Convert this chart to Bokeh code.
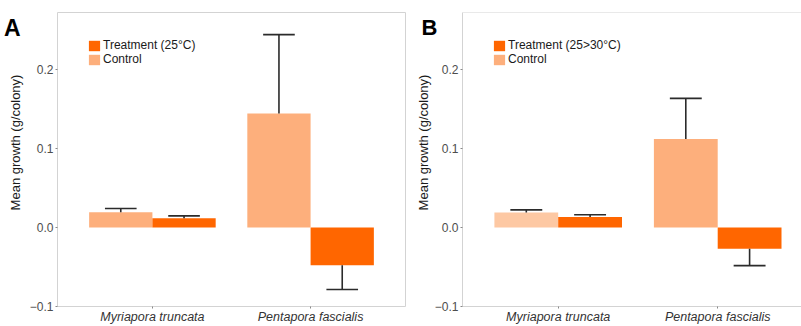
from bokeh.plotting import figure
from bokeh.layouts import row
from bokeh.models import (Range1d, FixedTicker, Legend, LegendItem, LinearAxis,
                          ColumnDataSource, Span)
from bokeh.embed import file_html
from bokeh.resources import INLINE

# ---------------- data ----------------
species = ["Myriapora truncata", "Pentapora fascialis"]
y_ticks = [-0.1, 0.0, 0.1, 0.2]
y_tick_labels = ["\u22120.1", "0.0", "0.1", "0.2"]
y_title = "Mean growth (g/colony)"

a_control = [0.0194, 0.1442]
a_control_se = [0.0046, 0.0998]
a_treatment = [0.0118, -0.0479]
a_treatment_se = [0.0029, 0.0306]
a_treatment_label = "Treatment (25\u00b0C)"

b_control = [0.0189, 0.1118]
b_control_se = [0.0034, 0.0516]
b_treatment = [0.0131, -0.0268]
b_treatment_se = [0.0029, 0.0215]
b_treatment_label = "Treatment (25>30\u00b0C)"

control_label = "Control"

# ---------------- style ----------------
TRT = "#FF6600"
CTRL = "#FDAF7C"
CTRL_LIGHT = "#FDC8A3"
BORDER = "#D3D3D3"
FONT = "Liberation Sans"
Y0, Y1 = -0.1, 0.272
H = 326
FRAME_H = 294
PX_PER_UNIT = FRAME_H / (Y1 - Y0)


def y_at_px(px):
    """data value at a given canvas pixel row (frame top is at pixel 12)"""
    return Y1 - (px - 12) / PX_PER_UNIT


def text_axis(p, text, px, standoff, size, bold=False, vertical=False):
    yv = y_at_px(px)
    ax = LinearAxis(ticker=FixedTicker(ticks=[yv]),
                    major_label_overrides={yv: text},
                    axis_line_color=None, major_tick_line_color=None,
                    minor_tick_line_color=None, major_tick_out=0, major_tick_in=0,
                    major_label_standoff=standoff,
                    major_label_text_font_size=size,
                    major_label_text_font=FONT,
                    major_label_text_font_style="bold" if bold else "normal",
                    major_label_text_color="black" if bold else "#1a1a1a")
    if vertical:
        ax.major_label_orientation = "vertical"
    p.add_layout(ax, "left")


def make_panel(letter, control, control_se, treatment, treatment_se, trt_label,
               ctrl_colors, width, left, right, x_end, full_outline, letter_first,
               s1, s2, letter_size):
    p = figure(width=width, height=H, output_backend="svg", toolbar_location=None,
               x_range=Range1d(0.4, x_end), y_range=Range1d(Y0, Y1),
               min_border_left=left, min_border_right=right,
               min_border_top=12, min_border_bottom=20)
    p.xgrid.visible = False
    p.ygrid.visible = False
    p.background_fill_color = "white"
    p.border_fill_color = "white"
    if full_outline:
        p.outline_line_color = BORDER
        p.axis.axis_line_color = None
    else:
        p.outline_line_color = None
        p.axis.axis_line_color = BORDER
        p.add_layout(Span(location=Y1, dimension="width", line_color=BORDER, line_width=1))

    xs = [i + 1 for i in range(len(species))]
    xc = [x - 0.2 for x in xs]
    xt = [x + 0.2 for x in xs]

    src_c = ColumnDataSource(dict(x=xc, top=control, color=ctrl_colors))
    src_t = ColumnDataSource(dict(x=xt, top=treatment))
    rc = p.vbar(x="x", top="top", bottom=0, width=0.4, source=src_c,
                fill_color="color", line_color=None)
    rt = p.vbar(x="x", top="top", bottom=0, width=0.4, source=src_t,
                fill_color=TRT, line_color=None)

    # one-sided error bars
    for xv, mv, sv in [(xc, control, control_se), (xt, treatment, treatment_se)]:
        ends = [m + (s if m >= 0 else -s) for m, s in zip(mv, sv)]
        p.segment(x0=xv, x1=xv, y0=mv, y1=ends, line_color="#2b2b2b", line_width=1.6)
        p.segment(x0=[x - 0.1 for x in xv], x1=[x + 0.1 for x in xv], y0=ends, y1=ends,
                  line_color="#2b2b2b", line_width=1.6)

    # axes
    p.yaxis.ticker = FixedTicker(ticks=y_ticks)
    p.yaxis.major_label_overrides = {t: l for t, l in zip(y_ticks, y_tick_labels)}
    p.xaxis.ticker = FixedTicker(ticks=xs)
    p.xaxis.major_label_overrides = {x: s for x, s in zip(xs, species)}
    p.axis.minor_tick_line_color = None
    p.axis.major_tick_in = 0
    p.axis.major_tick_out = 2
    p.axis.major_tick_line_color = "#888888"
    p.yaxis.major_label_standoff = 2
    p.xaxis.major_label_standoff = 1
    p.yaxis.major_label_text_font_size = "12px"
    p.yaxis.major_label_text_color = "#4d4d4d"
    p.xaxis.major_label_text_font_size = "12.5px"
    p.xaxis.major_label_text_font_style = "italic"
    p.xaxis.major_label_text_color = "#333333"
    p.axis.major_label_text_font = FONT

    # y title and panel letter, stacked in the left margin
    if letter_first:
        text_axis(p, letter, 27, s1, letter_size, bold=True)
        text_axis(p, y_title, 142, s2, "13px", vertical=True)
    else:
        text_axis(p, y_title, 142, s1, "13px", vertical=True)
        text_axis(p, letter, 27, s2, letter_size, bold=True)

    # legend
    items = [LegendItem(label=trt_label, renderers=[rt], index=0),
             LegendItem(label=control_label, renderers=[rc], index=1)]
    leg = Legend(items=items, location=(30, FRAME_H - 28 - 26),
                 glyph_width=14, glyph_height=13, label_height=13,
                 spacing=0, padding=0, margin=0, label_standoff=2,
                 label_text_font_size="12px", label_text_font=FONT,
                 label_text_color="#1a1a1a",
                 background_fill_alpha=0, border_line_alpha=0)
    p.add_layout(leg)
    return p


pA = make_panel("A", a_control, a_control_se, a_treatment, a_treatment_se,
                a_treatment_label, [CTRL, CTRL], width=407, left=54, right=2,
                x_end=2.6, full_outline=True, letter_first=False,
                s1=4, s2=-16, letter_size="23px")
pB = make_panel("B", b_control, b_control_se, b_treatment, b_treatment_se,
                b_treatment_label, [CTRL_LIGHT, CTRL], width=394, left=55, right=0,
                x_end=0.4 + 339 / 159.5, full_outline=False, letter_first=True,
                s1=-6, s2=-12, letter_size="22px")

layout = row(pA, pB)
open("out.html", "w").write(file_html(layout, INLINE))
